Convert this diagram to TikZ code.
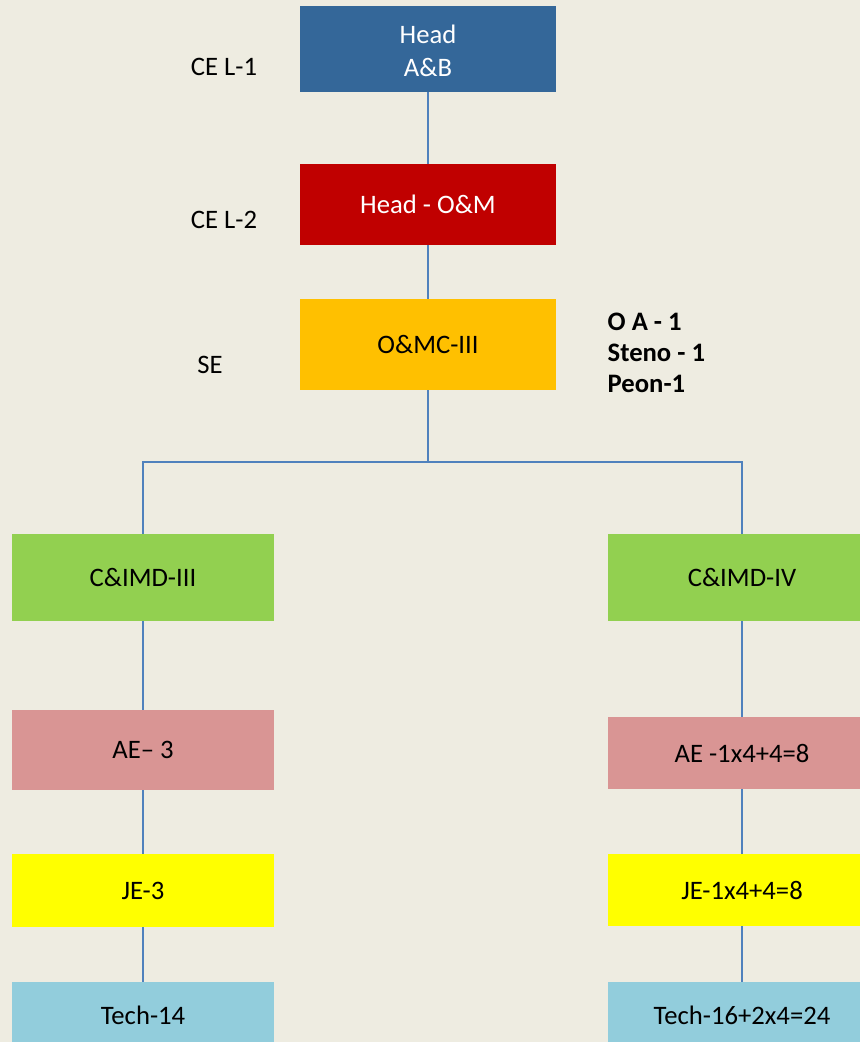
\documentclass[tikz,border=0pt]{standalone}
\usepackage{fontspec}
\setmainfont{Carlito}
\usetikzlibrary{positioning}

\definecolor{bgtan}{RGB}{238,236,225}
\definecolor{headblue}{RGB}{52,103,153}
\definecolor{headred}{RGB}{192,0,0}
\definecolor{seorange}{RGB}{255,192,0}
\definecolor{divgreen}{RGB}{146,208,80}
\definecolor{aepink}{RGB}{217,149,148}
\definecolor{jeyellow}{RGB}{255,255,0}
\definecolor{techblue}{RGB}{146,205,220}
\definecolor{linkblue}{RGB}{79,129,189}

\begin{document}
\begin{tikzpicture}[x=0.75pt, y=-0.75pt,
    box/.style={rectangle, inner sep=0pt, align=center,
        font=\fontsize{20}{24.75}\selectfont},
    topbox/.style={box, minimum width=192pt},
    leftbox/.style={box, minimum width=196.5pt},
    rightbox/.style={box, minimum width=201pt},
    rank/.style={font=\fontsize{20}{24}\selectfont},
    link/.style={draw=linkblue, line width=1.1pt}]
    \fill[bgtan] (0,0) rectangle (860,1042);
    \useasboundingbox (0,0) rectangle (860,1042);
    \node[topbox, fill=headblue, text=white, minimum height=64.5pt] (ab) at (428,49) {\rule{0pt}{17pt}Head\\A\&B};
    \node[topbox, fill=headred, text=white, minimum height=60.75pt] (om) at (428,204.5) {Head - O\&M};
    \node[topbox, fill=seorange, minimum height=68.25pt] (omc) at (428,344.5) {O\&MC-III};
    \node[leftbox, fill=divgreen, minimum height=65.25pt] (c3) at (143,577.5) {C\&IMD-III};
    \node[rightbox, fill=divgreen, minimum height=65.25pt] (c4) at (742,577.5) {C\&IMD-IV};
    \node[leftbox, fill=aepink, minimum height=60pt] (ae3) at (143,750) {AE– 3};
    \node[rightbox, fill=aepink, minimum height=54pt] (ae4) at (742,753) {AE -1x4+4=8};
    \node[leftbox, fill=jeyellow, minimum height=54.75pt] (je3) at (143,890.5) {JE-3};
    \node[rightbox, fill=jeyellow, minimum height=54pt] (je4) at (742,890) {JE-1x4+4=8};
    \node[leftbox, fill=techblue, minimum height=49.5pt] (t3) at (143,1015) {Tech-14};
    \node[rightbox, fill=techblue, minimum height=49.5pt] (t4) at (742,1015) {Tech-16+2x4=24};
    \node[rank] (r1) at (224,67) {CE L-1};
    \node[rank] (r2) at (224,220) {CE L-2};
    \node[rank] (r3) at (210,365) {SE};
    \node[anchor=west, align=left, font=\fontsize{20}{23.25}\selectfont\bfseries] (staff) at (603,353) {O A - 1\\Steno - 1\\Peon-1};
    \coordinate (bus) at (428,462);
    \draw[link] (ab) -- (om);
    \draw[link] (om) -- (omc);
    \draw[link] (omc) -- (bus);
    \draw[link] (c3) |- (bus) -| (c4);
    \draw[link] (c3) -- (ae3);
    \draw[link] (ae3) -- (je3);
    \draw[link] (je3) -- (t3);
    \draw[link] (c4) -- (ae4);
    \draw[link] (ae4) -- (je4);
    \draw[link] (je4) -- (t4);
\end{tikzpicture}
\end{document}
